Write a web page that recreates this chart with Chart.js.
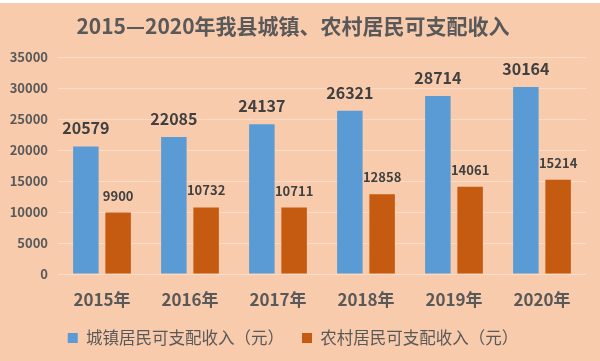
<!DOCTYPE html>
<html>
<head>
<meta charset="utf-8">
<script src="https://cdn.jsdelivr.net/npm/chart.js@4"></script>
<style>
  html, body { margin: 0; padding: 0; background: #F8CBAD; }
  #wrap { position: relative; width: 600px; height: 361px; }
  #strip { position: absolute; left: 0; top: 0; width: 600px; height: 3px; background: #fff; }
  canvas { display: block; }
</style>
</head>
<body>
<div id="wrap">
  <canvas id="incomeChart" width="600" height="361"></canvas>
  <div id="strip"></div>
</div>
<script>
const years = ['2015年', '2016年', '2017年', '2018年', '2019年', '2020年'];
const urbanIncome = [20579, 22085, 24137, 26321, 28714, 30164];
const ruralIncome = [9900, 10732, 10711, 12858, 14061, 15214];
const seriesNames = ['城镇居民可支配收入（元）', '农村居民可支配收入（元）'];
const yMax = 35000;
const yStep = 5000;

const FONT = '"Noto Sans CJK SC", "Noto Sans", sans-serif';

// draws the value above each bar
const valueLabels = {
  id: 'valueLabels',
  afterDatasetsDraw(chart) {
    const ctx = chart.ctx;
    ctx.save();
    ctx.textAlign = 'center';
    ctx.textBaseline = 'alphabetic';
    ctx.fillStyle = '#404040';
    chart.data.datasets.forEach((ds, i) => {
      const meta = chart.getDatasetMeta(i);
      ctx.font = 'bold ' + (i === 0 ? 16 : 13) + 'px ' + FONT;
      meta.data.forEach((bar, j) => {
        ctx.fillText(String(ds.data[j]), bar.x, bar.y - 12);
      });
    });
    ctx.restore();
  }
};

document.addEventListener('DOMContentLoaded', () => {
  const ctx = document.getElementById('incomeChart');

  new Chart(ctx, {
    type: 'bar',
    data: {
      labels: years,
      datasets: [
        { label: seriesNames[0], data: urbanIncome, backgroundColor: '#5B9BD5' },
        { label: seriesNames[1], data: ruralIncome, backgroundColor: '#C55A11' }
      ]
    },
    options: {
      responsive: false,
      animation: false,
      layout: { padding: { left: 0, right: 14, top: 0, bottom: 4.75 } },
      datasets: {
        bar: { categoryPercentage: 0.733, barPercentage: 0.79 }
      },
      plugins: {
        title: {
          display: true,
          text: '2015—2020年我县城镇、农村居民可支配收入',
          color: '#595959',
          font: { family: FONT, size: 21, weight: 'bold' },
          padding: { top: 13, bottom: 18.8 }
        },
        legend: {
          position: 'bottom',
          labels: {
            color: '#595959',
            font: { family: FONT, size: 16.5 },
            boxWidth: 10,
            boxHeight: 10,
            padding: 18
          }
        },
        tooltip: { enabled: false }
      },
      scales: {
        x: {
          grid: { display: false, drawTicks: false },
          border: { display: false },
          ticks: {
            color: '#595959',
            font: { family: FONT, size: 17, weight: 'bold' },
            padding: 15.8
          },
          afterFit: (s) => { s.height = 37.75; }
        },
        y: {
          min: 0,
          max: yMax,
          grid: { color: 'rgba(255,255,255,0.35)', drawTicks: false },
          border: { display: false },
          ticks: {
            stepSize: yStep,
            color: '#595959',
            font: { family: FONT, size: 13, weight: 'bold' },
            padding: 10,
            callback: (v) => String(v)
          },
          afterFit: (s) => { s.width = 58; }
        }
      }
    },
    plugins: [valueLabels]
  });
});
</script>
</body>
</html>
